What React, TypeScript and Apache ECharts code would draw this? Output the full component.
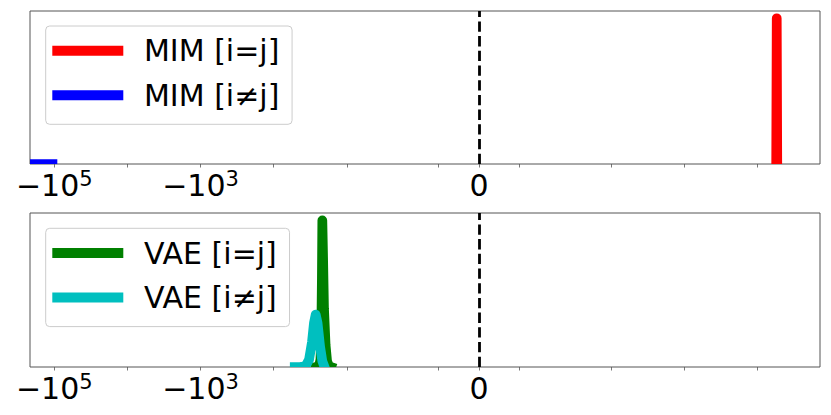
import React, { useEffect, useRef } from 'react';
import * as echarts from 'echarts';

// symlog transform (base 10, linthresh 2, linscale 1) -> axis units (1 unit = 1 decade)
const LINTHRESH = 2;
const LINSCALE_ADJ = 1 / (1 - 1 / 10);
function symlog(v: number): number {
  const a = Math.abs(v);
  if (a <= LINTHRESH) return (v * LINSCALE_ADJ) / LINTHRESH;
  return Math.sign(v) * (LINSCALE_ADJ + Math.log10(a / LINTHRESH));
}

const X_MIN = -215000;
const X_MAX = 7110;
const Y_MAX = 1.05;

const tickValues = [-1e5, -1e4, -1e3, -1e2, -10, -1, 0, 1, 10, 100, 1000];
const labelValues = [-1e5, -1e3, 0];
const labelTexts = ['{m|−10}{s|5}', '{m|−10}{s|3}', '{m|0}'];

// top panel
const mimSameX = [1790, 1820, 1850];
const mimSameY = [0, 1, 0];
const mimDiffX = [-300000, -200000, -150000, -106000];
const mimDiffY = [0, 0, 0, 0];

// bottom panel
const vaeSameX = [-26.4, -24.0, -22.9, -22.3, -21.9, -21.6, -21.1, -20.5, -19.5, -18.6, -17.5, -16.4];
const vaeSameY = [0, 0.005, 0.05, 0.25, 0.6, 1, 0.75, 0.4, 0.15, 0.04, 0.005, 0];
const vaeDiffX = [-51.5, -43.6, -39.6, -36.1, -32.8, -29.9, -28.1, -26.6, -25.1, -23.2, -21.6, -20.5];
const vaeDiffY = [0, 0, 0.003, 0.012, 0.05, 0.17, 0.3, 0.358, 0.3, 0.14, 0.04, 0.01];

const FONT = 'DejaVu Sans';
const LW = 9.7;
const FRAME = '#555';

function curve(name: string, xs: number[], ys: number[], color: string, idx: number, extra: any = {}) {
  const data = xs.map((x, i) => [symlog(x), ys[i]]);
  return {
    type: 'custom',
    name,
    coordinateSystem: 'cartesian2d',
    xAxisIndex: idx,
    yAxisIndex: idx,
    clip: true,
    itemStyle: { color },
    data,
    renderItem: (params: any, api: any) => {
      if (params.dataIndex !== 0) return null;
      const points = data.map((d) => api.coord(d));
      return {
        type: 'polyline',
        shape: { points },
        style: { stroke: color, fill: 'none', lineWidth: LW, lineJoin: 'round', lineCap: 'square' },
      };
    },
    ...extra,
  };
}

const zeroLine = {
  markLine: {
    silent: true,
    symbol: ['none', 'none'],
    label: { show: false },
    lineStyle: { color: '#000', width: 2.8, type: [10.3, 4.4] },
    data: [{ xAxis: 0 }],
  },
};

function xAxisFor(i: number) {
  return {
    type: 'value',
    gridIndex: i,
    min: symlog(X_MIN),
    max: symlog(X_MAX),
    axisLine: { show: false },
    splitLine: { show: false },
    axisTick: {
      show: true,
      customValues: tickValues.map(symlog),
      length: 3.5,
      lineStyle: { color: FRAME, width: 0.8 },
    },
    axisLabel: {
      customValues: labelValues.map(symlog),
      margin: 4,
      formatter: (v: number) => {
        const k = labelValues.findIndex((lv) => Math.abs(symlog(lv) - v) < 1e-6);
        return k >= 0 ? labelTexts[k] : '';
      },
      rich: {
        m: { fontSize: 30, fontFamily: FONT, color: '#000', lineHeight: 34 },
        s: { fontSize: 21, fontFamily: FONT, color: '#000', lineHeight: 21, verticalAlign: 'top' },
      },
    },
  };
}

function legendFor(names: string[], top: number) {
  return {
    data: names,
    orient: 'vertical',
    left: 45.7,
    top,
    icon: 'rect',
    itemWidth: 71,
    itemHeight: 10,
    itemGap: 10.6,
    padding: [7.7, 12.7, 12, 6.6],
    backgroundColor: 'rgba(255,255,255,0.8)',
    borderColor: '#cccccc',
    borderWidth: 1,
    borderRadius: 4,
    textStyle: { fontSize: 30, fontFamily: FONT, color: '#000', lineHeight: 34, padding: [0, 0, 0, 15.7] },
  };
}

export default function App() {
  const ref = useRef<HTMLDivElement>(null);
  useEffect(() => {
    document.body.style.margin = '0';
    const chart = echarts.init(ref.current!, null, { renderer: 'svg' });
    chart.setOption({
      animation: false,
      backgroundColor: '#fff',
      grid: [
        { left: 30, right: 11, top: 11, height: 153, show: true, borderColor: FRAME, borderWidth: 1, backgroundColor: 'transparent' },
        { left: 30, right: 11, top: 213, height: 154, show: true, borderColor: FRAME, borderWidth: 1, backgroundColor: 'transparent' },
      ],
      xAxis: [xAxisFor(0), xAxisFor(1)],
      yAxis: [
        { type: 'value', gridIndex: 0, min: 0, max: Y_MAX, show: false },
        { type: 'value', gridIndex: 1, min: 0, max: Y_MAX, show: false },
      ],
      legend: [
        legendFor(['MIM [i=j]', 'MIM [i≠j]'], 26),
        legendFor(['VAE [i=j]', 'VAE [i≠j]'], 228.3),
      ],
      series: [
        curve('MIM [i=j]', mimSameX, mimSameY, '#ff0000', 0, zeroLine),
        curve('MIM [i≠j]', mimDiffX, mimDiffY, '#0000ff', 0),
        curve('VAE [i=j]', vaeSameX, vaeSameY, '#008000', 1, zeroLine),
        curve('VAE [i≠j]', vaeDiffX, vaeDiffY, '#00bfbf', 1),
      ],
    });
    return () => chart.dispose();
  }, []);
  return <div ref={ref} style={{ position: 'fixed', left: 0, top: 0, width: 831, height: 415 }} />;
}
